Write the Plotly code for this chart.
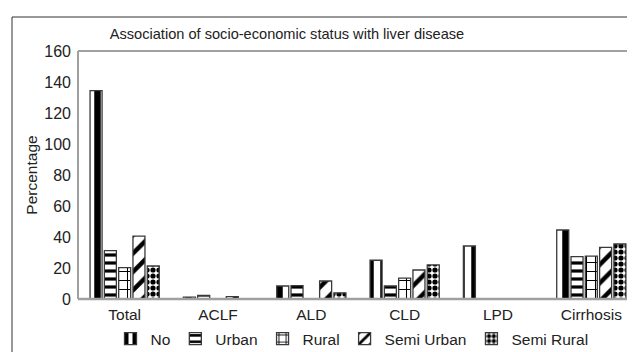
import plotly.graph_objects as go

categories = ["Total", "ACLF", "ALD", "CLD", "LPD", "Cirrhosis"]
series_names = ["No", "Urban", "Rural", "Semi Urban", "Semi Rural"]
no_vals = [134.5, 1.2, 8.4, 25.0, 34.2, 44.5]
urban_vals = [31.2, 2.4, 8.6, 8.4, 0, 27.3]
rural_vals = [20.2, 0, 0, 13.5, 0, 27.7]
semi_urban_vals = [40.6, 1.5, 11.6, 18.7, 0, 33.3]
semi_rural_vals = [21.3, 0, 4.0, 22.0, 0, 35.5]
y_ticks = [0, 20, 40, 60, 80, 100, 120, 140, 160]

values = [no_vals, urban_vals, rural_vals, semi_urban_vals, semi_rural_vals]
patterns = [
    dict(shape="|", size=13, solidity=0.5),
    dict(shape="-", size=8, solidity=0.4),
    dict(shape="+", size=9, solidity=0.22),
    dict(shape="/", size=13, solidity=0.35),
    dict(shape=".", size=6, solidity=0.6),
]

FONT = "Liberation Sans, Arial, sans-serif"

fig = go.Figure()
for name, vals, pat in zip(series_names, values, patterns):
    fig.add_trace(go.Bar(
        x=categories, y=vals, name=name,
        marker=dict(color="white",
                    pattern=dict(fgcolor="black", bgcolor="white", fillmode="replace", **pat),
                    line=dict(color="#3a3a3a", width=1.3)),
    ))

# page has an 8px body margin; compensate so page coordinates match the reference
OFF = 8
W, H = 635 - OFF, 352 - OFF
L, R, T = 78 - OFF, 0, 51 - OFF
B = H - (299 - OFF)
pw = W - L - R
ph = H - T - B

def px(page_x):
    return (page_x - OFF - L) / pw

def py(page_y):
    return (H - B - (page_y - OFF)) / ph

shapes = [
    dict(type="line", xref="paper", yref="paper", x0=0, x1=0, y0=0, y1=1,
         line=dict(color="#a0a0a0", width=2)),
    dict(type="line", xref="paper", yref="paper", x0=0, x1=1, y0=1, y1=1,
         line=dict(color="#a0a0a0", width=2)),
    dict(type="line", xref="paper", yref="paper", x0=0, x1=1, y0=0, y1=0,
         line=dict(color="#a0a0a0", width=2.5)),
    dict(type="line", xref="paper", yref="paper", x0=px(12), x1=px(640), y0=py(17), y1=py(17),
         line=dict(color="#333333", width=1)),
    dict(type="line", xref="paper", yref="paper", x0=px(12), x1=px(12), y0=py(17), y1=py(360),
         line=dict(color="#333333", width=1)),
]

fig.update_layout(
    width=W, height=H,
    margin=dict(l=L, r=R, t=T, b=B, autoexpand=False),
    paper_bgcolor="white", plot_bgcolor="white",
    font=dict(family=FONT, size=16, color="#222222"),
    barmode="group", bargap=0.234, bargroupgap=0.16,
    title=dict(text="Association of socio-economic status with liver disease",
               x=(287 - OFF) / W, xanchor="center", y=1 - (34 - OFF) / H, yanchor="middle",
               font=dict(size=14.6, family=FONT, color="#222222")),
    xaxis=dict(range=[-0.5, 5.468], showgrid=False, showline=False, zeroline=False,
               ticks="", ticklabelstandoff=4, tickfont=dict(size=15.5)),
    yaxis=dict(range=[0, 160], tickvals=y_ticks, showgrid=False, showline=False,
               zeroline=False, ticks="", ticklabelstandoff=6,
               tickfont=dict(size=16),
               title=dict(text="Percentage", font=dict(size=15.5), standoff=2)),
    legend=dict(orientation="h", x=px(352), xanchor="center", y=py(339), yanchor="middle",
                font=dict(size=15.5), bgcolor="rgba(0,0,0,0)", itemwidth=30,
                tracegroupgap=0),
    shapes=shapes,
)

fig.write_html("out.html")
